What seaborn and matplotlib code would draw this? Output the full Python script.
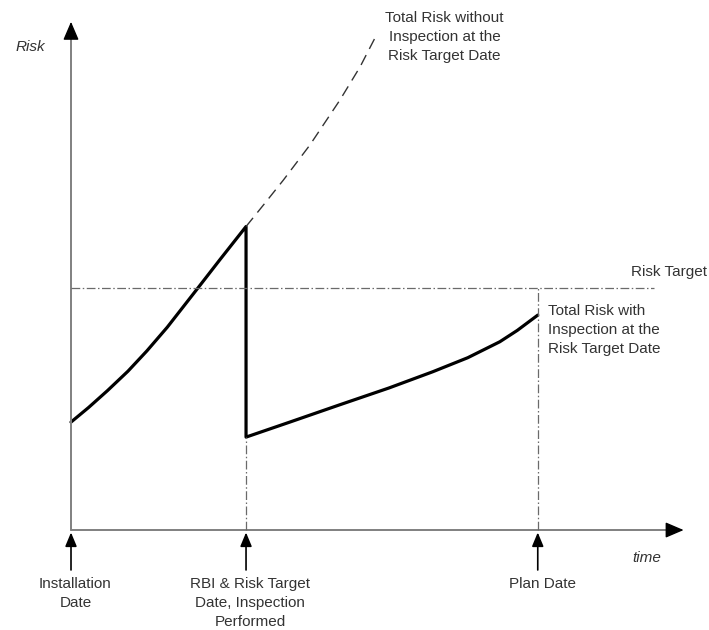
import matplotlib
matplotlib.use("Agg")
import matplotlib.pyplot as plt
import seaborn as sns
import pandas as pd

# ---- data (time in years, risk in arbitrary units) ----
time_before = [0.0, 0.6, 1.25, 1.95, 2.6, 3.3, 4.35, 5.11, 6.0]
risk_before = [4.46, 5.06, 5.76, 6.56, 7.40, 8.38, 10.0, 11.18, 12.54]
time_after = [6.0, 7.5, 9.2, 10.9, 12.4, 13.6, 14.7, 15.3, 16.0]
risk_after = [3.84, 4.46, 5.17, 5.87, 6.54, 7.12, 7.78, 8.25, 8.88]
time_without = [6.0, 6.65, 7.28, 8.19, 9.22, 9.91, 10.50]
risk_without = [12.54, 13.51, 14.46, 15.91, 17.77, 19.14, 20.52]
risk_target = 10.0
target_end = 20.0
event_times = [0.0, 6.0, 16.0]
event_labels = ["Installation\nDate", "RBI & Risk Target\nDate, Inspection\nPerformed", "Plan Date"]
time_max = 21.0
risk_max = 21.0

sns.set_style("white")
plt.rcParams["font.family"] = ["Liberation Sans", "DejaVu Sans"]

fig = plt.figure(figsize=(7.09, 6.30), dpi=100)
ax = fig.add_axes([0, 0, 1, 1])

axis_col = "#808080"
grid_col = "#6a6a6a"
text_col = "#333333"
dashdot = (0, (7, 2, 1.2, 2))

# curves (risk with inspection = before + drop + after)
df_with = pd.DataFrame({"time": time_before + time_after, "risk": risk_before + risk_after})
df_without = pd.DataFrame({"time": time_without, "risk": risk_without})
sns.lineplot(data=df_with, x="time", y="risk", sort=False, estimator=None,
             color="black", lw=2.3, ax=ax)
sns.lineplot(data=df_without, x="time", y="risk", sort=False, estimator=None,
             color="#333333", lw=1.0, ax=ax, linestyle=(0, (8, 5)))

ax.set_xlim(-2.434, 21.87)
ax.set_ylim(-4.13, 21.9)
ax.axis("off")

# axis shafts
ax.plot([0, time_max - 0.3], [0, 0], color=axis_col, lw=1.4)
ax.plot([0, 0], [0, risk_max - 0.4], color=axis_col, lw=1.4)
# arrow heads
head = dict(arrowstyle="-|>,head_length=0.7,head_width=0.3", lw=1.0,
            mutation_scale=16, shrinkA=0, shrinkB=0, fc="black", ec="black")
ax.annotate("", xy=(time_max, 0), xytext=(time_max - 0.5, 0), arrowprops=head)
ax.annotate("", xy=(0, risk_max), xytext=(0, risk_max - 0.6), arrowprops=head)

# risk target line
ax.plot([0, target_end], [risk_target, risk_target], color=grid_col, lw=0.9, linestyle=dashdot)
# vertical reference lines
ax.plot([event_times[1], event_times[1]], [0, risk_after[0]], color=grid_col, lw=0.9, linestyle=dashdot)
ax.plot([event_times[2], event_times[2]], [0, risk_target], color=grid_col, lw=0.9, linestyle=dashdot)

# event arrows and labels
small = dict(arrowstyle="-|>,head_length=0.6,head_width=0.25", color=axis_col, lw=1.2,
             mutation_scale=14, shrinkA=0, shrinkB=0, fc="black", ec="black")
for t, lab in zip(event_times, event_labels):
    ax.annotate("", xy=(t, -0.1), xytext=(t, -1.65), arrowprops=small)
    ax.text(t + 0.15, -1.95, lab, ha="center", va="top", fontsize=11, color=text_col,
            linespacing=1.45)

fs = 11
ax.text(-1.4, 19.95, "Risk", fontsize=fs, style="italic", ha="center", va="center", color=text_col)
ax.text(19.75, -1.15, "time", fontsize=fs, style="italic", ha="center", va="center", color=text_col)
ax.text(21.8, 10.65, "Risk Target", fontsize=fs, ha="right", va="center", color=text_col)
ax.text(16.35, 9.35, "Total Risk with\nInspection at the\nRisk Target Date", fontsize=fs,
        ha="left", va="top", color=text_col, linespacing=1.45)
ax.text(12.8, 21.45, "Total Risk without\nInspection at the\nRisk Target Date", fontsize=fs,
        ha="center", va="top", color=text_col, linespacing=1.45)

fig.savefig("out.png", dpi=100)
